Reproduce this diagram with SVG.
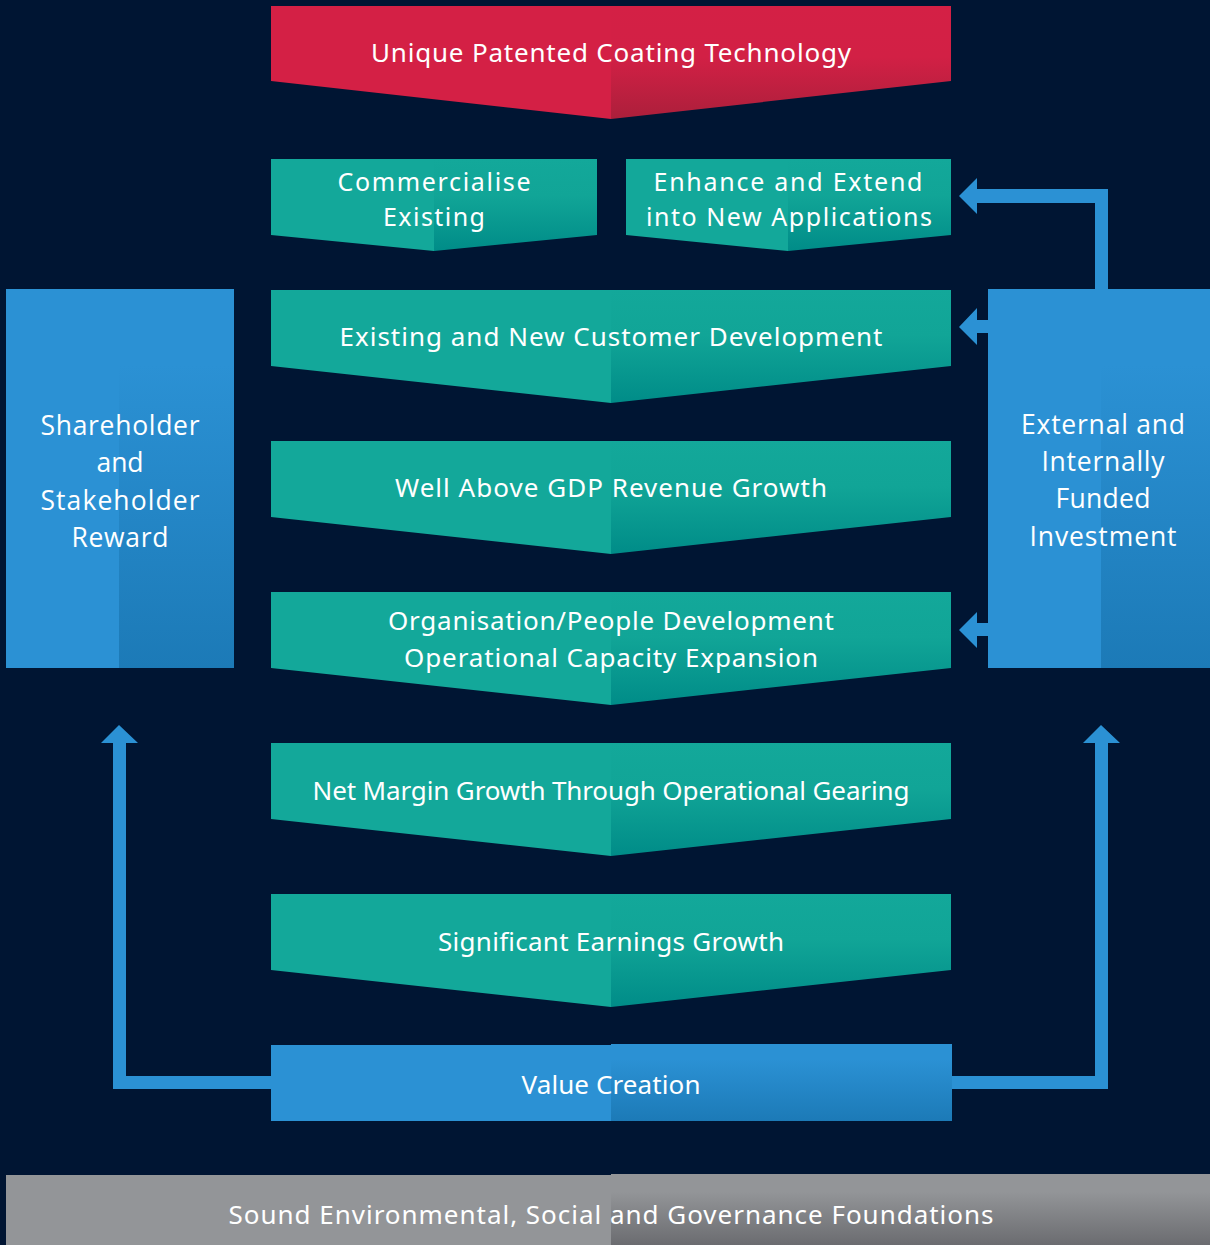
<svg xmlns="http://www.w3.org/2000/svg" width="1210" height="1245" viewBox="0 0 1210 1245">
  <defs>
    <!-- right-hand halves darken towards the bottom -->
    <linearGradient id="redShade" x1="0" y1="0" x2="0" y2="1">
      <stop offset="0" stop-color="#D42045"/>
      <stop offset="0.45" stop-color="#D22045"/>
      <stop offset="1" stop-color="#AC1F3B"/>
    </linearGradient>
    <linearGradient id="tealShade" x1="0" y1="0" x2="0" y2="1">
      <stop offset="0" stop-color="#13A89A"/>
      <stop offset="0.4" stop-color="#11A597"/>
      <stop offset="1" stop-color="#008C88"/>
    </linearGradient>
    <linearGradient id="blueShade" x1="0" y1="0" x2="0" y2="1">
      <stop offset="0" stop-color="#2B91D4"/>
      <stop offset="0.2" stop-color="#2B91D4"/>
      <stop offset="1" stop-color="#1C7AB7"/>
    </linearGradient>
    <linearGradient id="sideShade" x1="0" y1="0" x2="0" y2="1">
      <stop offset="0" stop-color="#2B91D4"/>
      <stop offset="0.2" stop-color="#2B91D4"/>
      <stop offset="1" stop-color="#1C7AB7"/>
    </linearGradient>
    <linearGradient id="greyShade" x1="0" y1="0" x2="0" y2="1">
      <stop offset="0" stop-color="#939598"/>
      <stop offset="0.25" stop-color="#939598"/>
      <stop offset="1" stop-color="#6B6C70"/>
    </linearGradient>
  </defs>
  <style>
    .lbl { font-family: "Noto Sans", "Liberation Sans", sans-serif; font-size: 26px; fill: #FFFFFF; text-anchor: middle; }
    .sm { font-size: 25px; }
    .side { font-family: "Open Sans", "Liberation Sans", sans-serif; font-size: 26.5px; fill: #FFFFFF; text-anchor: middle; }
    .red { fill: #D42045; }
    .teal { fill: #13A89A; }
    .blue { fill: #2B91D4; }
    .grey { fill: #939598; }
    .conn { fill: #2B91D4; }
  </style>

  <rect width="1210" height="1245" fill="#001533"/>

  <!-- connectors -->
  <g id="connectors">
    <!-- Value Creation to Shareholder Reward -->
    <path class="conn" d="M271 1076 H126 V743 H138 L119 725 L101 743 H113 V1089 H271 Z"/>
    <!-- Value Creation to Investment -->
    <path class="conn" d="M951 1076 H1095 V743 H1083 L1101 725 L1120 743 H1108 V1089 H951 Z"/>
    <!-- Investment up to Enhance and Extend -->
    <path class="conn" d="M1095 289 V203 H977 V214 L959 196 L977 178 V189 H1108 V289 Z"/>
    <!-- Investment to Customer Development -->
    <path class="conn" d="M988 320 H977 V308 L959 327 L977 345 V333 H988 Z"/>
    <!-- Investment to Organisation Development -->
    <path class="conn" d="M988 623 H977 V612 L959 630 L977 648 V636 H988 Z"/>
  </g>

  <g id="coating">
    <path class="red" d="M271 6 H611 V119 L271 81 Z"/>
    <path fill="url(#redShade)" d="M611 6 H951 V81 L611 119 Z"/>
    <text class="lbl" x="611" y="62" textLength="480">Unique Patented Coating Technology</text>
  </g>

  <g id="commercialise">
    <path class="teal" d="M271 159 H434 V251 L271 235 Z"/>
    <path fill="url(#tealShade)" d="M434 159 H597 V235 L434 251 Z"/>
    <text class="lbl sm" x="434" y="190.5" textLength="193">Commercialise</text>
    <text class="lbl sm" x="434" y="225.5" textLength="102">Existing</text>
  </g>

  <g id="enhance">
    <path class="teal" d="M626 159 H788 V251 L626 235 Z"/>
    <path fill="url(#tealShade)" d="M788 159 H951 V235 L788 251 Z"/>
    <text class="lbl sm" x="788" y="190.5" textLength="269">Enhance and Extend</text>
    <text class="lbl sm" x="789" y="225.5" textLength="286">into New Applications</text>
  </g>

  <g id="customer">
    <path class="teal" d="M271 290 H611 V403 L271 366 Z"/>
    <path fill="url(#tealShade)" d="M611 290 H951 V366 L611 403 Z"/>
    <text class="lbl" x="611" y="346" textLength="543">Existing and New Customer Development</text>
  </g>

  <g id="revenue">
    <path class="teal" d="M271 441 H611 V554 L271 517 Z"/>
    <path fill="url(#tealShade)" d="M611 441 H951 V517 L611 554 Z"/>
    <text class="lbl" x="611" y="497" textLength="432">Well Above GDP Revenue Growth</text>
  </g>

  <g id="organisation">
    <path class="teal" d="M271 592 H611 V705 L271 668 Z"/>
    <path fill="url(#tealShade)" d="M611 592 H951 V668 L611 705 Z"/>
    <text class="lbl" x="611" y="630" textLength="446">Organisation/People Development</text>
    <text class="lbl" x="611" y="667" textLength="414">Operational Capacity Expansion</text>
  </g>

  <g id="margin">
    <path class="teal" d="M271 743 H611 V856 L271 819 Z"/>
    <path fill="url(#tealShade)" d="M611 743 H951 V819 L611 856 Z"/>
    <text class="lbl" x="611" y="800" textLength="597">Net Margin Growth Through Operational Gearing</text>
  </g>

  <g id="earnings">
    <path class="teal" d="M271 894 H611 V1007 L271 970 Z"/>
    <path fill="url(#tealShade)" d="M611 894 H951 V970 L611 1007 Z"/>
    <text class="lbl" x="611" y="951" textLength="346">Significant Earnings Growth</text>
  </g>

  <g id="value">
    <rect class="blue" x="271" y="1045" width="340" height="76"/>
    <rect fill="url(#blueShade)" x="611" y="1044" width="341" height="77"/>
    <text class="lbl" x="611" y="1094" textLength="179">Value Creation</text>
  </g>

  <g id="shareholder">
    <rect class="blue" x="6" y="289" width="113" height="379"/>
    <rect fill="url(#sideShade)" x="119" y="289" width="115" height="379"/>
    <text class="side" x="120" y="435" textLength="159">Shareholder</text>
    <text class="side" x="120" y="472" textLength="47">and</text>
    <text class="side" x="120" y="510" textLength="159">Stakeholder</text>
    <text class="side" x="120" y="547" textLength="97">Reward</text>
  </g>

  <g id="investment">
    <rect class="blue" x="988" y="289" width="113" height="379"/>
    <rect fill="url(#sideShade)" x="1101" y="289" width="109" height="379"/>
    <text class="side" x="1103" y="434" textLength="164">External and</text>
    <text class="side" x="1103" y="471" textLength="123">Internally</text>
    <text class="side" x="1103" y="508" textLength="95">Funded</text>
    <text class="side" x="1103" y="546" textLength="147">Investment</text>
  </g>

  <g id="foundations">
    <rect class="grey" x="6" y="1175" width="605" height="70"/>
    <rect fill="url(#greyShade)" x="611" y="1174" width="599" height="71"/>
    <text class="lbl" x="611" y="1224" textLength="765">Sound Environmental, Social and Governance Foundations</text>
  </g>
</svg>
